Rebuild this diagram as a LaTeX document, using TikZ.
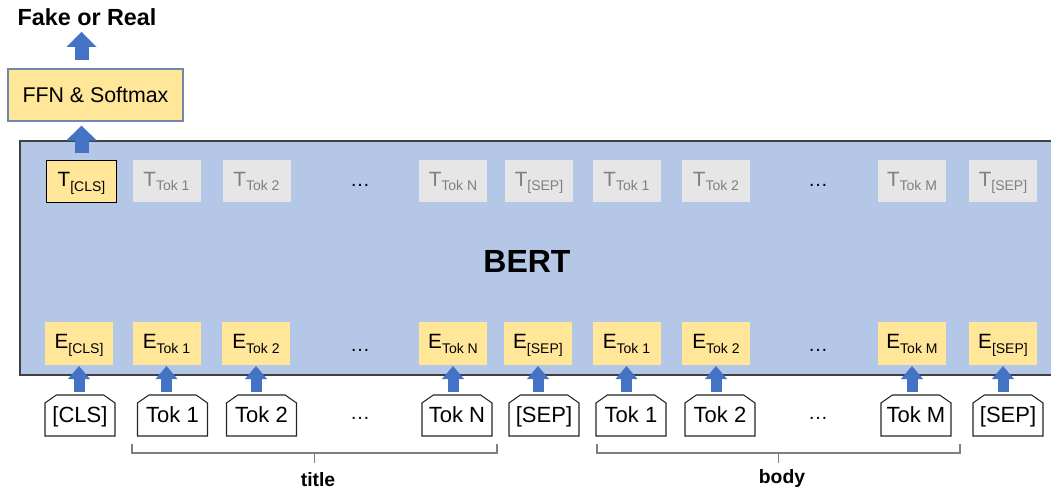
\documentclass[tikz,border=0pt]{standalone}
\usepackage{fontspec}
\setmainfont{Liberation Sans}
\usetikzlibrary{arrows.meta,shapes.misc,calc}
\definecolor{embyellow}{HTML}{FFE699}
\definecolor{bertblue}{HTML}{B4C7E7}
\definecolor{outgray}{HTML}{E7E6E6}
\definecolor{outtext}{HTML}{7F7F7F}
\definecolor{arrowblue}{HTML}{4472C4}
\definecolor{ffnline}{HTML}{7088AC}
\definecolor{bracegray}{HTML}{7F7F7F}
\newcommand\lsub[1]{\raisebox{-3.2pt}{\fontsize{10.5}{12}\selectfont #1}}
\tikzset{
  embbox/.style={fill=embyellow, minimum width=51pt, minimum height=32pt,
    inner sep=0pt, text height=11.5pt, text depth=3.5pt, font=\fontsize{15.5}{18}\selectfont},
  outbox/.style={fill=outgray, text=outtext, minimum width=51pt, minimum height=32pt,
    inner sep=0pt, text height=11.5pt, text depth=3.5pt, font=\fontsize{15.5}{18}\selectfont},
  clsout/.style={embbox, draw=black, line width=0.8pt, minimum width=53pt},
  tokbox/.style={chamfered rectangle, chamfered rectangle corners={north west,north east},
    chamfered rectangle xsep=3.5pt, chamfered rectangle angle=55, draw=black!85, line width=0.8pt, fill=white,
    minimum width=52.5pt, minimum height=30.75pt, inner sep=0pt,
    text height=11.5pt, text depth=1.5pt, font=\fontsize{16.5}{19}\selectfont},
  dotsnode/.style={inner sep=0pt, font=\fontsize{15}{18}\selectfont},
  bigarrow/.style={line width=10.5pt, arrowblue,
    -{Triangle[width=22.5pt,length=11.25pt,line width=0.5pt]}},
  smallarrow/.style={line width=8.25pt, arrowblue,
    -{Triangle[width=16.5pt,length=9.75pt,line width=0.5pt]}},
  bracket/.style={bracegray, line width=1.4pt},
  partlabel/.style={inner sep=0pt, font=\fontsize{14.5}{17}\selectfont\bfseries},
}
\begin{document}
\begin{tikzpicture}[x=0.75pt, y=-0.75pt]
  \useasboundingbox (0,0) rectangle (1051,494);
  % encoder block
  \draw[fill=bertblue, draw=black!75, line width=1pt] (20,141) rectangle (1060,375);
  \node[inner sep=0pt, font=\fontsize{24}{28}\selectfont\bfseries] (bert) at (527,261) {BERT};
  % classifier head
  \node[draw=ffnline, line width=0.8pt, fill=embyellow, minimum width=131.25pt,
    minimum height=39pt, inner sep=0pt, font=\fontsize{16}{19}\selectfont] (ffn) at (95.5,95) {FFN \& Softmax};
  \node[inner sep=0pt, font=\fontsize{17.5}{20}\selectfont\bfseries] (fake) at (87,17) {Fake or Real};
  % output row
  \node[clsout] (tcls) at (81.5,181.5) {T\lsub{[CLS]}};
  \node[outbox] (tt1) at (166.5,181) {T\lsub{Tok 1}};
  \node[outbox] (tt2) at (256.5,181) {T\lsub{Tok 2}};
  \node[dotsnode] (tdotsa) at (360,185) {\textellipsis};
  \node[outbox] (ttn) at (453,181) {T\lsub{Tok N}};
  \node[outbox] (tsep) at (539,181) {T\lsub{[SEP]}};
  \node[outbox] (tb1) at (626.5,181) {T\lsub{Tok 1}};
  \node[outbox] (tb2) at (716,181) {T\lsub{Tok 2}};
  \node[dotsnode] (tdotsb) at (818,185) {\textellipsis};
  \node[outbox] (tbm) at (912,181) {T\lsub{Tok M}};
  \node[outbox] (tsepb) at (1003,181) {T\lsub{[SEP]}};
  % embedding row
  \node[embbox] (ecls) at (79,343.5) {E\lsub{[CLS]}};
  \node[embbox] (et1) at (166.5,343.5) {E\lsub{Tok 1}};
  \node[embbox] (et2) at (256,343.5) {E\lsub{Tok 2}};
  \node[dotsnode] (edotsa) at (360,350) {\textellipsis};
  \node[embbox] (etn) at (453,343.5) {E\lsub{Tok N}};
  \node[embbox] (esep) at (538,343.5) {E\lsub{[SEP]}};
  \node[embbox] (eb1) at (626.5,343.5) {E\lsub{Tok 1}};
  \node[embbox] (eb2) at (716,343.5) {E\lsub{Tok 2}};
  \node[dotsnode] (edotsb) at (818,350) {\textellipsis};
  \node[embbox] (ebm) at (912,343.5) {E\lsub{Tok M}};
  \node[embbox] (esepb) at (1003,343.5) {E\lsub{[SEP]}};
  % input tokens
  \node[tokbox] (cls) at (80,415.5) {[CLS]};
  \node[tokbox] (t1) at (172.5,415.5) {Tok 1};
  \node[tokbox] (t2) at (261.5,415.5) {Tok 2};
  \node[dotsnode] (dotsa) at (360,418) {\textellipsis};
  \node[tokbox] (tn) at (457,415.5) {Tok N};
  \node[tokbox] (sep) at (544,415.5) {[SEP]};
  \node[tokbox] (b1) at (631,415.5) {Tok 1};
  \node[tokbox] (b2) at (720,415.5) {Tok 2};
  \node[dotsnode] (dotsb) at (818,418) {\textellipsis};
  \node[tokbox] (bm) at (916,415.5) {Tok M};
  \node[tokbox] (sepb) at (1008,415.5) {[SEP]};
  % arrows
  \draw[bigarrow, shorten <=6pt, shorten >=4.5pt] (tcls.north |- ffn.north) -- (tcls.north |- fake.south);
  \draw[bigarrow, shorten <=5.25pt, shorten >=3pt] (tcls.north) -- (tcls.north |- ffn.south);
  \begin{scope}[smallarrow, shorten <=1.5pt, shorten >=0.75pt]
    \draw (ecls.south |- cls.north) -- (ecls.south);
    \draw (et1.south |- t1.north) -- (et1.south);
    \draw (et2.south |- t2.north) -- (et2.south);
    \draw (etn.south |- tn.north) -- (etn.south);
    \draw (esep.south |- sep.north) -- (esep.south);
    \draw (eb1.south |- b1.north) -- (eb1.south);
    \draw (eb2.south |- b2.north) -- (eb2.south);
    \draw (ebm.south |- bm.north) -- (ebm.south);
    \draw (esepb.south |- sepb.north) -- (esepb.south);
  \end{scope}
  % segment brackets
  \coordinate (titleL) at (132,444);
  \coordinate (titleR) at (497,444);
  \coordinate (bodyL) at (597,444);
  \coordinate (bodyR) at (960,444);
  \draw[bracket] (titleL) -- ++(0,9) -| (titleR);
  \draw[bracket] (bodyL) -- ++(0,9) -| (bodyR);
  \draw[bracket] ($(titleL)!0.5!(titleR)$) ++(0,9) -- ++(0,10);
  \draw[bracket] ($(bodyL)!0.5!(bodyR)$) ++(0,9) -- ++(0,10);
  \node[partlabel] (title) at (318,480) {title};
  \node[partlabel] (body) at (782,478) {body};
\end{tikzpicture}
\end{document}
